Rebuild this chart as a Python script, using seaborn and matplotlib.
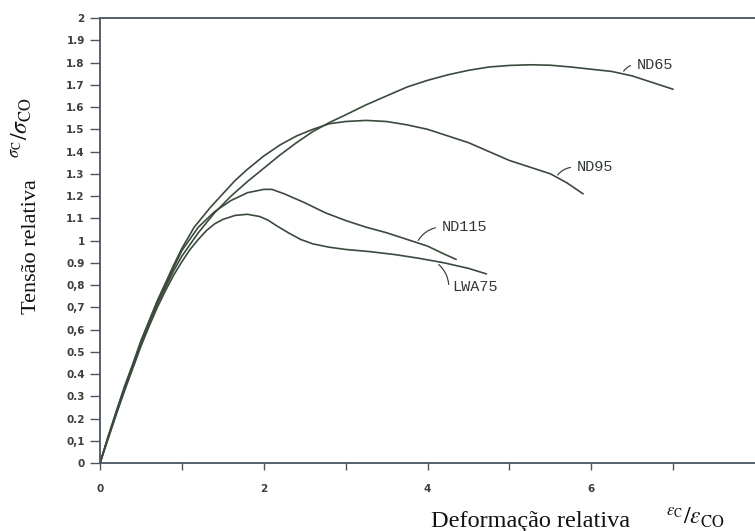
import pandas as pd
import seaborn as sns
import matplotlib.pyplot as plt

# curves (relative strain, relative stress)
nd65_x = [0, 0.1, 0.2, 0.3, 0.4, 0.5, 0.6, 0.7, 0.8, 0.9, 1.0, 1.2, 1.4, 1.6, 1.8, 2.0, 2.2, 2.4, 2.6, 2.8,
          3.0, 3.25, 3.5, 3.75, 4.0, 4.25, 4.5, 4.75, 5.0, 5.25, 5.5, 5.75, 6.0, 6.25, 6.5, 6.75, 7.0]
nd65_y = [0, 0.115, 0.225, 0.335, 0.435, 0.54, 0.63, 0.715, 0.79, 0.865, 0.93, 1.035, 1.125, 1.20, 1.265, 1.325,
          1.385, 1.44, 1.49, 1.53, 1.565, 1.61, 1.65, 1.69, 1.72, 1.745, 1.765, 1.78, 1.787, 1.79, 1.788, 1.78,
          1.77, 1.76, 1.74, 1.71, 1.68]

nd95_x = [0, 0.1, 0.2, 0.3, 0.4, 0.5, 0.6, 0.7, 0.8, 0.9, 1.0, 1.15, 1.35, 1.5, 1.65, 1.8, 2.0, 2.2, 2.4, 2.6,
          2.8, 3.0, 3.25, 3.5, 3.75, 4.0, 4.25, 4.5, 4.75, 5.0, 5.25, 5.5, 5.7, 5.9]
nd95_y = [0, 0.12, 0.235, 0.345, 0.445, 0.55, 0.64, 0.73, 0.81, 0.89, 0.965, 1.06, 1.15, 1.21, 1.27, 1.32, 1.38,
          1.43, 1.47, 1.50, 1.525, 1.535, 1.54, 1.535, 1.52, 1.50, 1.47, 1.44, 1.40, 1.36, 1.33, 1.30, 1.26, 1.21]

nd115_x = [0, 0.1, 0.2, 0.3, 0.4, 0.5, 0.6, 0.7, 0.8, 0.9, 1.0, 1.2, 1.4, 1.6, 1.8, 2.0, 2.1, 2.25, 2.5, 2.75,
           3.0, 3.25, 3.5, 3.75, 4.0, 4.2, 4.35]
nd115_y = [0, 0.12, 0.23, 0.34, 0.44, 0.545, 0.635, 0.725, 0.80, 0.88, 0.955, 1.06, 1.13, 1.18, 1.215, 1.23,
           1.23, 1.21, 1.17, 1.125, 1.09, 1.06, 1.035, 1.005, 0.975, 0.94, 0.915]

lwa75_x = [0, 0.1, 0.2, 0.3, 0.4, 0.5, 0.6, 0.7, 0.8, 0.9, 1.0, 1.1, 1.2, 1.3, 1.4, 1.5, 1.65, 1.8, 1.95, 2.05,
           2.15, 2.3, 2.45, 2.6, 2.8, 3.0, 3.3, 3.6, 3.9, 4.2, 4.5, 4.72]
lwa75_y = [0, 0.11, 0.22, 0.325, 0.425, 0.525, 0.615, 0.70, 0.775, 0.845, 0.905, 0.96, 1.005, 1.045, 1.075, 1.095,
           1.113, 1.118, 1.108, 1.092, 1.068, 1.035, 1.005, 0.985, 0.97, 0.96, 0.95, 0.937, 0.92, 0.90, 0.875, 0.85]

names = ["ND65", "ND95", "ND115", "LWA75"]
# where the leader line touches the curve, and where the label sits
label_on_curve = [(6.38, 1.75), (5.57, 1.285), (3.87, 0.99), (4.11, 0.90)]
label_pos = [(6.55, 1.79), (5.82, 1.33), (4.17, 1.06), (4.30, 0.79)]

yticks = [0, 0.1, 0.2, 0.3, 0.4, 0.5, 0.6, 0.7, 0.8, 0.9, 1, 1.1, 1.2, 1.3, 1.4, 1.5, 1.6, 1.7, 1.8, 1.9, 2]
ytick_labels = ["0", "0,1", "0.2", "0.3", "0.4", "0.5", "0,6", "0,7", "0,8", "0.9", "1",
                "1.1", "1.2", "1.3", "1.4", "1.5", "1.6", "1.7", "1.8", "1.9", "2"]
xticks = [0, 1, 2, 3, 4, 5, 6, 7]
xtick_labels = ["0", "", "2", "", "4", "", "6", ""]

frames = []
for name, xs, ys in zip(names, [nd65_x, nd95_x, nd115_x, lwa75_x], [nd65_y, nd95_y, nd115_y, lwa75_y]):
    frames.append(pd.DataFrame({"x": xs, "y": ys, "curve": name}))
df = pd.concat(frames, ignore_index=True)

sns.set_style("ticks")
plt.rcParams["mathtext.fontset"] = "stix"

line_color = "#3b4a3c"
axis_color = "#4a5560"

fig = plt.figure(figsize=(7.55, 5.31), dpi=100)
ax = fig.add_axes([0.1325, 0.128, 0.8675, 0.838])

sns.lineplot(data=df, x="x", y="y", hue="curve", palette=[line_color] * 4,
             estimator=None, sort=False, linewidth=1.2, legend=False, ax=ax)

for name, p, t in zip(names, label_on_curve, label_pos):
    ax.annotate("", xy=p, xytext=(t[0] - 0.04, t[1]),
                arrowprops=dict(arrowstyle="-", color=line_color, lw=0.9,
                                connectionstyle="arc3,rad=0.25"))
    ax.text(t[0], t[1], name, family="Liberation Mono", fontsize=11,
            color="#333a33", ha="left", va="center")

ax.set_xlim(0, 8)
ax.set_ylim(0, 2)
ax.set_xticks(xticks)
ax.set_xticklabels(xtick_labels)
ax.set_yticks(yticks)
ax.set_yticklabels(ytick_labels)
ax.set_xlabel("")
ax.set_ylabel("")

for side in ["left", "bottom", "top"]:
    ax.spines[side].set_color(axis_color)
    ax.spines[side].set_linewidth(1.3)
ax.spines["right"].set_visible(False)

ax.tick_params(axis="y", length=7, width=1.0, pad=4, color=axis_color,
               labelsize=7.5, labelcolor="#3a4038")
ax.tick_params(axis="x", length=5, width=1.0, pad=10, color=axis_color,
               labelsize=7.5, labelcolor="#3a4038")
for lab in ax.get_xticklabels() + ax.get_yticklabels():
    lab.set_fontweight("bold")

fig.text(32 / 755, 1 - 247 / 531, "Tensão relativa", rotation=90, ha="center", va="center",
         family="Liberation Serif", fontsize=16, color="#111111")
fig.text(22 / 755, 1 - 128 / 531, r"$^{\sigma_{\mathrm{C}}}/\sigma_{\mathrm{CO}}$", rotation=90,
         ha="center", va="center", fontsize=17, color="#111111")

fig.text(531 / 755, 1 - 527 / 531, "Deformação relativa", ha="center", va="baseline",
         family="Liberation Serif", fontsize=17.5, color="#111111")
fig.text(695 / 755, 1 - 524 / 531, r"$^{\varepsilon_{\mathrm{C}}}/\varepsilon_{\mathrm{CO}}$",
         ha="center", va="baseline", fontsize=17, color="#111111")

fig.savefig("out.png", dpi=100)
